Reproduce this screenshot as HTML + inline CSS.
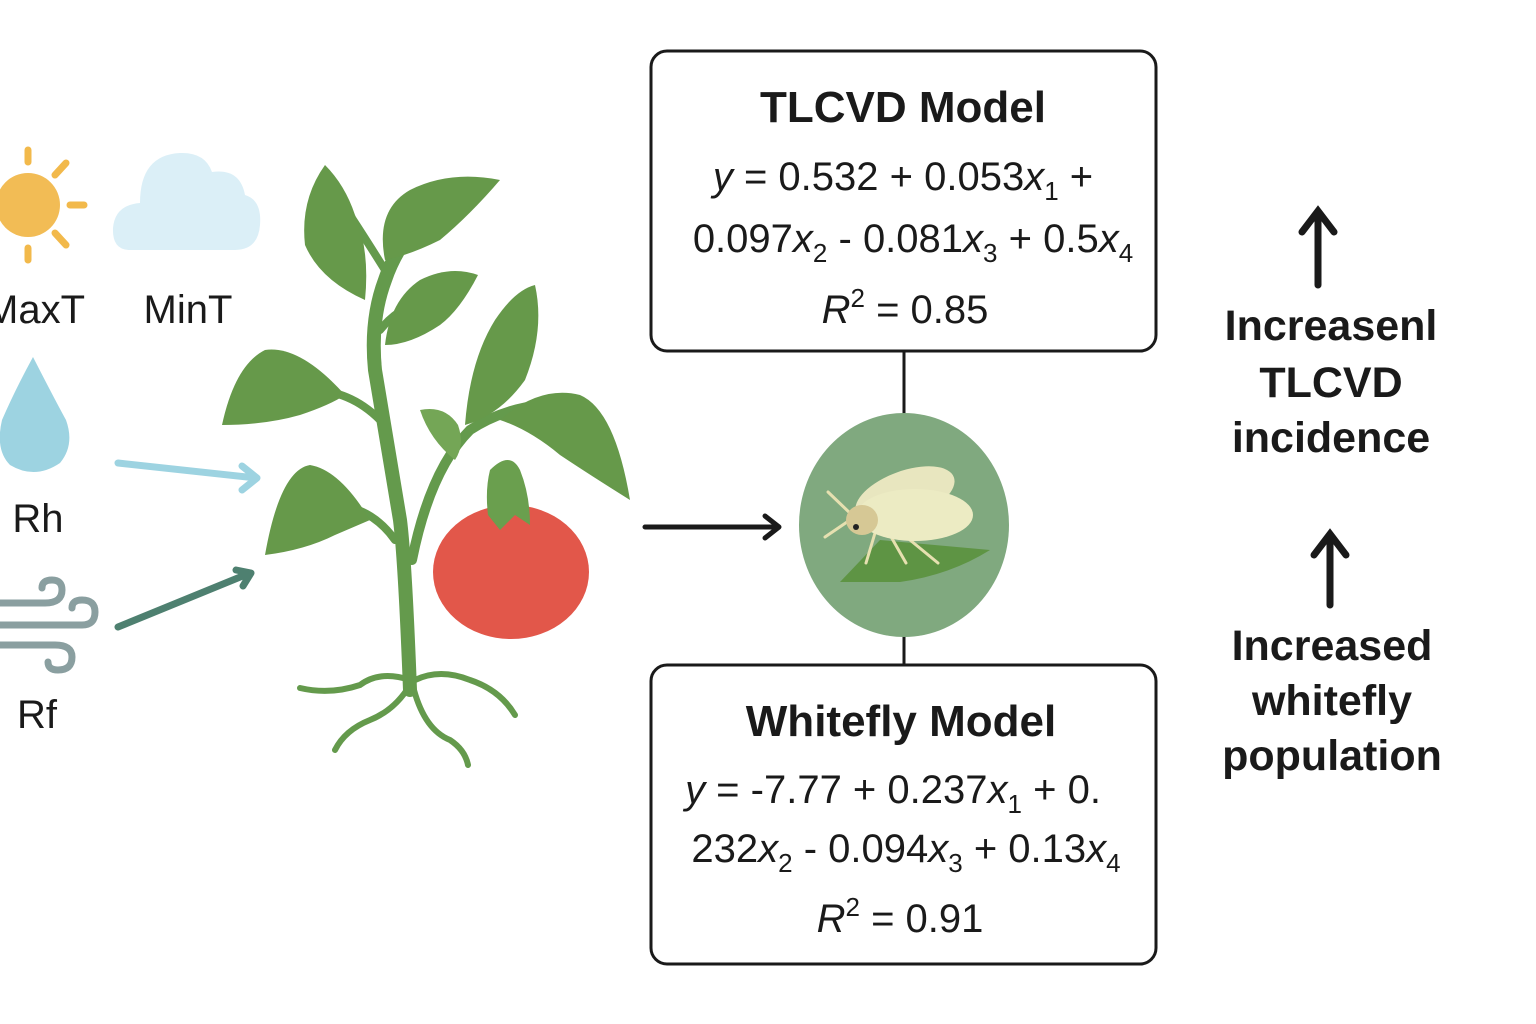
<!DOCTYPE html>
<html><head><meta charset="utf-8"><style>
html,body{margin:0;padding:0;background:#fff;}
svg{display:block;}
text{font-family:"Liberation Sans","DejaVu Sans",sans-serif;fill:#1a1a1a;}
.t{font-weight:bold;font-size:44px;text-anchor:middle;}
.e{font-size:40px;text-anchor:middle;}
.l{font-size:40px;text-anchor:middle;font-weight:500;}
.r{font-weight:bold;font-size:43px;text-anchor:middle;}
</style></head><body>
<svg width="1536" height="1024" viewBox="0 0 1536 1024" xmlns="http://www.w3.org/2000/svg">
<rect width="1536" height="1024" fill="#fff"/>
<g stroke="#f2b94b" stroke-width="7" stroke-linecap="round">
<line x1="28" y1="150" x2="28" y2="162"/><line x1="28" y1="248" x2="28" y2="260"/>
<line x1="70" y1="205" x2="84" y2="205"/><line x1="55" y1="175" x2="66" y2="163"/>
<line x1="55" y1="233" x2="66" y2="245"/></g>
<circle cx="28" cy="205" r="32" fill="#f2bc55"/>
<path d="M130 250 Q112 250 113 228 Q115 205 140 203 Q140 155 180 153 Q205 152 212 172 Q240 168 245 195 Q262 200 260 225 Q258 250 235 250 Z" fill="#dbeff7"/>
<text class="l" x="35" y="323">MaxT</text>
<text class="l" x="188" y="323">MinT</text>
<path d="M33 357 Q55 400 66 420 Q75 445 60 463 Q35 480 10 465 Q-5 450 2 420 Q15 390 33 357 Z" fill="#9dd3e1"/>
<text class="l" x="38" y="532">Rh</text>
<g fill="none" stroke="#8a9fa0" stroke-width="7" stroke-linecap="round">
<path d="M0 603 H45 Q62 603 62 590 Q62 580 52 580 Q42 580 42 588"/>
<path d="M0 625 H82 Q95 625 95 612 Q95 600 82 600 Q72 600 72 608"/>
<path d="M0 645 H55 Q72 645 72 657 Q72 670 58 670 Q48 670 48 662"/>
</g>
<text class="l" x="37" y="728">Rf</text>
<g stroke-linecap="round" stroke-linejoin="round" fill="none">
<path d="M118 463 L256 478 M242 466 L257 478 L242 490" stroke="#9dd3e1" stroke-width="7"/>
<path d="M118 627 L250 573 M236 570 L251 573 L243 586" stroke="#4e8070" stroke-width="7"/>
<path d="M645 527 L778 527 M765 516 L779 527 L765 538" stroke="#1a1a1a" stroke-width="5"/>
</g>
<g fill="none" stroke="#649a4c" stroke-linecap="round">
<path d="M410 690 Q405 560 400 520 Q385 430 375 370 Q370 320 385 280 Q395 250 420 220" stroke-width="14"/>
<path d="M412 560 Q430 470 470 430 Q500 410 540 405" stroke-width="10"/>
<path d="M385 270 Q360 230 340 200" stroke-width="8"/>
<path d="M380 420 Q350 390 310 390" stroke-width="8"/>
<path d="M395 540 Q370 505 330 505" stroke-width="8"/>
<path d="M380 330 Q400 305 430 300" stroke-width="8"/>
<path d="M410 680 Q380 670 360 685 Q330 695 300 688" stroke-width="6"/>
<path d="M410 685 Q395 710 370 720 Q345 730 335 750" stroke-width="6"/>
<path d="M415 680 Q440 668 470 680 Q500 690 515 715" stroke-width="6"/>
<path d="M414 690 Q425 730 450 740 Q465 750 468 765" stroke-width="6"/>
</g>
<g fill="#66994a">
<path d="M365 300 Q320 280 305 245 Q300 200 325 165 Q345 185 355 215 Q370 250 365 300 Z"/>
<path d="M385 260 Q375 210 410 190 Q450 170 500 180 Q470 215 440 240 Q410 255 385 260 Z"/>
<path d="M385 345 Q390 300 420 280 Q450 265 478 275 Q460 310 440 325 Q410 345 385 345 Z"/>
<path d="M345 395 Q300 345 265 350 Q235 365 222 425 Q265 425 300 415 Q330 405 345 395 Z"/>
<path d="M370 520 Q340 470 310 465 Q280 470 265 555 Q305 550 335 535 Z"/>
<path d="M465 425 Q470 360 495 320 Q515 290 535 285 Q545 330 525 380 Q500 415 465 425 Z"/>
<path d="M500 420 Q540 385 580 395 Q615 410 630 500 Q590 475 560 455 Q530 430 500 420 Z"/>
<path d="M455 460 Q430 440 420 410 Q445 405 458 425 Q465 445 455 460 Z" fill="#74a656"/>
</g>
<ellipse cx="511" cy="572" rx="78" ry="67" fill="#e2574a"/>
<path d="M490 470 Q510 450 520 470 Q530 495 530 525 L515 515 L500 530 L488 515 Q485 490 490 470 Z" fill="#6a9f4e"/>
<rect x="651" y="51" width="505" height="300" rx="16" fill="#fff" stroke="#1a1a1a" stroke-width="3"/>
<rect x="651" y="665" width="505" height="299" rx="16" fill="#fff" stroke="#1a1a1a" stroke-width="3"/>
<line x1="904" y1="352" x2="904" y2="414" stroke="#1a1a1a" stroke-width="3"/>
<line x1="904" y1="636" x2="904" y2="664" stroke="#1a1a1a" stroke-width="3"/>
<text class="t" x="903" y="122">TLCVD Model</text>
<text class="e" x="903" y="190"><tspan font-style="italic">y</tspan> = 0.532 + 0.053<tspan font-style="italic">x</tspan><tspan font-size="26" dy="10">1</tspan><tspan dy="-10"> +</tspan></text>
<text class="e" x="913" y="252">0.097<tspan font-style="italic">x</tspan><tspan font-size="26" dy="10">2</tspan><tspan dy="-10"> - 0.081</tspan><tspan font-style="italic">x</tspan><tspan font-size="26" dy="10">3</tspan><tspan dy="-10"> + 0.5</tspan><tspan font-style="italic">x</tspan><tspan font-size="26" dy="10">4</tspan></text>
<text class="e" x="905" y="323"><tspan font-style="italic">R</tspan><tspan font-size="26" dy="-16">2</tspan><tspan dy="16"> = 0.85</tspan></text>
<text class="t" x="901" y="736">Whitefly Model</text>
<text class="e" x="893" y="803"><tspan font-style="italic">y</tspan> = -7.77 + 0.237<tspan font-style="italic">x</tspan><tspan font-size="26" dy="10">1</tspan><tspan dy="-10"> + 0.</tspan></text>
<text class="e" x="906" y="862">232<tspan font-style="italic">x</tspan><tspan font-size="26" dy="10">2</tspan><tspan dy="-10"> - 0.094</tspan><tspan font-style="italic">x</tspan><tspan font-size="26" dy="10">3</tspan><tspan dy="-10"> + 0.13</tspan><tspan font-style="italic">x</tspan><tspan font-size="26" dy="10">4</tspan></text>
<text class="e" x="900" y="932"><tspan font-style="italic">R</tspan><tspan font-size="26" dy="-16">2</tspan><tspan dy="16"> = 0.91</tspan></text>
<ellipse cx="904" cy="525" rx="105" ry="112" fill="#80a97f"/>
<path d="M840 582 L880 540 L990 550 Q950 575 900 582 Z" fill="#5e9444"/>
<g stroke="#e6e0b0" stroke-width="3" stroke-linecap="round">
<line x1="852" y1="515" x2="828" y2="492"/><line x1="850" y1="520" x2="825" y2="537"/>
<line x1="875" y1="533" x2="866" y2="563"/><line x1="890" y1="535" x2="906" y2="563"/>
<line x1="910" y1="540" x2="938" y2="563"/></g>
<ellipse cx="905" cy="495" rx="52" ry="24" transform="rotate(-20 905 495)" fill="#e8e6bf"/>
<ellipse cx="915" cy="515" rx="58" ry="26" fill="#ecebc3"/>
<ellipse cx="862" cy="520" rx="16" ry="15" fill="#d6c895"/>
<circle cx="856" cy="527" r="3" fill="#222"/>
<g stroke="#1a1a1a" stroke-width="7" fill="none" stroke-linecap="round">
<path d="M1318 285 V212 M1302 232 L1318 211 L1334 232"/>
<path d="M1330 605 V535 M1314 555 L1330 534 L1346 555"/>
</g>
<text class="r" x="1331" y="340">Increasenl</text>
<text class="r" x="1331" y="397">TLCVD</text>
<text class="r" x="1331" y="452">incidence</text>
<text class="r" x="1332" y="660">Increased</text>
<text class="r" x="1332" y="715">whitefly</text>
<text class="r" x="1332" y="770">population</text>
</svg>
</body></html>
